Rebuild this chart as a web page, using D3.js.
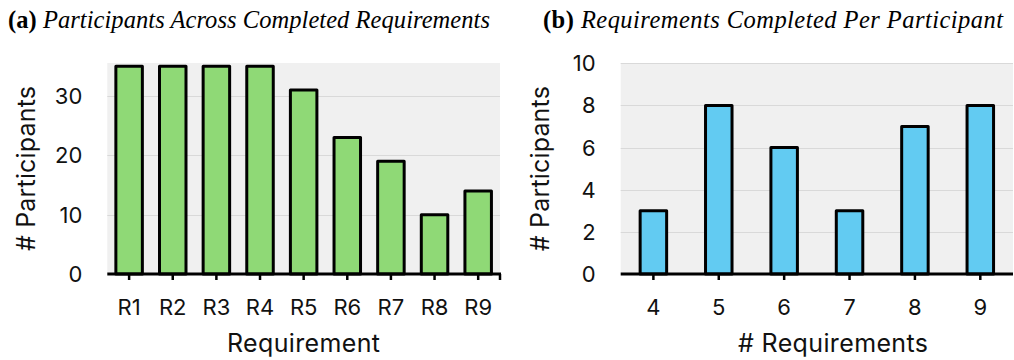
<!DOCTYPE html>
<html>
<head>
<meta charset="utf-8">
<script src="https://cdn.jsdelivr.net/npm/d3@7/dist/d3.min.js"></script>
<style>
  html, body { margin: 0; padding: 0; background: #fff; }
  svg { display: block; }
  .title { font-family: "Liberation Serif", serif; font-size: 24.5px; fill: #000; }
  .tick-label, .axis-title { font-family: Inter, "Liberation Sans", Arial, sans-serif; fill: #111; }
</style>
</head>
<body>
<svg id="chart" width="1014" height="360"></svg>
<script>
// Participants per requirement
const requirements = ["R1", "R2", "R3", "R4", "R5", "R6", "R7", "R8", "R9"];
const participantsPerRequirement = [35, 35, 35, 35, 31, 23, 19, 10, 14];
const leftYTicks = [0, 10, 20, 30];

// Participants per number of completed requirements
const requirementCounts = ["4", "5", "6", "7", "8", "9"];
const participantsPerCount = [3, 8, 6, 3, 7, 8];
const rightYTicks = [0, 2, 4, 6, 8, 10];

const svg = d3.select("#chart");

function panel(opts) {
  const g = svg.append("g");
  const x = d3.scaleBand().domain(opts.categories).range([opts.x0, opts.x1]).paddingInner(0).paddingOuter(0);
  const y = d3.scaleLinear().domain([0, opts.yMax]).range([opts.yBottom, opts.yTop]);

  // plot background
  g.append("rect")
    .attr("x", opts.x0).attr("y", opts.yTop)
    .attr("width", opts.x1 - opts.x0).attr("height", opts.yBottom - opts.yTop)
    .attr("fill", "#f0f0f0");

  // horizontal gridlines
  g.append("g").selectAll("line")
    .data(opts.yTicks.filter(t => t > 0))
    .join("line")
    .attr("x1", opts.x0).attr("x2", opts.x1)
    .attr("y1", d => Math.round(y(d)) + 0.5).attr("y2", d => Math.round(y(d)) + 0.5)
    .attr("stroke", "#d9d9d9").attr("stroke-width", 1);

  // y tick labels
  g.append("g").selectAll("text")
    .data(opts.yTicks)
    .join("text")
    .attr("class", "tick-label")
    .attr("x", opts.x0 - 25).attr("y", d => y(d))
    .attr("dy", "0.36em")
    .attr("text-anchor", "end")
    .attr("font-size", 22)
    .text(d => d);

  // bars
  const barW = 26.5;
  g.append("g").selectAll("rect")
    .data(opts.values)
    .join("rect")
    .attr("x", (d, i) => x(opts.categories[i]) + x.bandwidth() / 2 - barW / 2)
    .attr("y", d => y(d))
    .attr("width", barW)
    .attr("height", d => y(0) - y(d))
    .attr("fill", opts.color)
    .attr("stroke", "#000")
    .attr("stroke-width", 3)
    .attr("stroke-linejoin", "round");

  // x axis line and ticks
  g.append("line")
    .attr("x1", opts.x0).attr("x2", opts.x1 + (opts.endTick ? 1 : 0))
    .attr("y1", y(0)).attr("y2", y(0))
    .attr("stroke", "#000").attr("stroke-width", 3);
  g.append("g").selectAll("line")
    .data(opts.categories)
    .join("line")
    .attr("x1", d => x(d) + x.bandwidth() / 2).attr("x2", d => x(d) + x.bandwidth() / 2)
    .attr("y1", y(0)).attr("y2", y(0) + 6)
    .attr("stroke", "#000").attr("stroke-width", 2.5);
  if (opts.endTick) {
    g.append("line")
      .attr("x1", opts.x1).attr("x2", opts.x1)
      .attr("y1", y(0)).attr("y2", y(0) + 6)
      .attr("stroke", "#000").attr("stroke-width", 2.5);
  }

  // x tick labels
  g.append("g").selectAll("text")
    .data(opts.categories)
    .join("text")
    .attr("class", "tick-label")
    .attr("x", d => x(d) + x.bandwidth() / 2)
    .attr("y", 315)
    .attr("text-anchor", "middle")
    .attr("font-size", 22)
    .text(d => d);

  // axis titles
  g.append("text")
    .attr("class", "axis-title")
    .attr("x", opts.xTitleX).attr("y", 352)
    .attr("text-anchor", "middle")
    .attr("font-size", 25)
    .attr("textLength", opts.xTitleWidth).attr("lengthAdjust", "spacing")
    .text(opts.xTitle);
  g.append("text")
    .attr("class", "axis-title")
    .attr("transform", `translate(${opts.yTitleX},${(opts.yTop + opts.yBottom) / 2}) rotate(-90)`)
    .attr("text-anchor", "middle")
    .attr("font-size", 25)
    .attr("textLength", 165).attr("lengthAdjust", "spacing")
    .text("# Participants");

  // panel title
  const t = g.append("text").attr("class", "title")
    .attr("x", opts.titleX).attr("y", 28)
    .attr("textLength", opts.titleWidth).attr("lengthAdjust", "spacing");
  t.append("tspan").attr("font-weight", "bold").text(opts.label + " ");
  t.append("tspan").attr("font-style", "italic").text(opts.title);
}

panel({
  categories: requirements, values: participantsPerRequirement, yTicks: leftYTicks,
  yMax: 35.56, x0: 107.3, x1: 500, yTop: 63, yBottom: 274,
  color: "#8fd976", xTitle: "Requirement", xTitleX: 303.5, xTitleWidth: 153, yTitleX: 35,
  label: "(a)", title: "Participants Across Completed Requirements", titleX: 8, titleWidth: 482, endTick: true
});

panel({
  categories: requirementCounts, values: participantsPerCount, yTicks: rightYTicks,
  yMax: 10, x0: 620.7, x1: 1013, yTop: 63.3, yBottom: 274,
  color: "#62cbf2", xTitle: "# Requirements", xTitleX: 833, xTitleWidth: 190, yTitleX: 549,
  label: "(b)", title: "Requirements Completed Per Participant", titleX: 543, titleWidth: 460, endTick: false
});
</script>
</body>
</html>
